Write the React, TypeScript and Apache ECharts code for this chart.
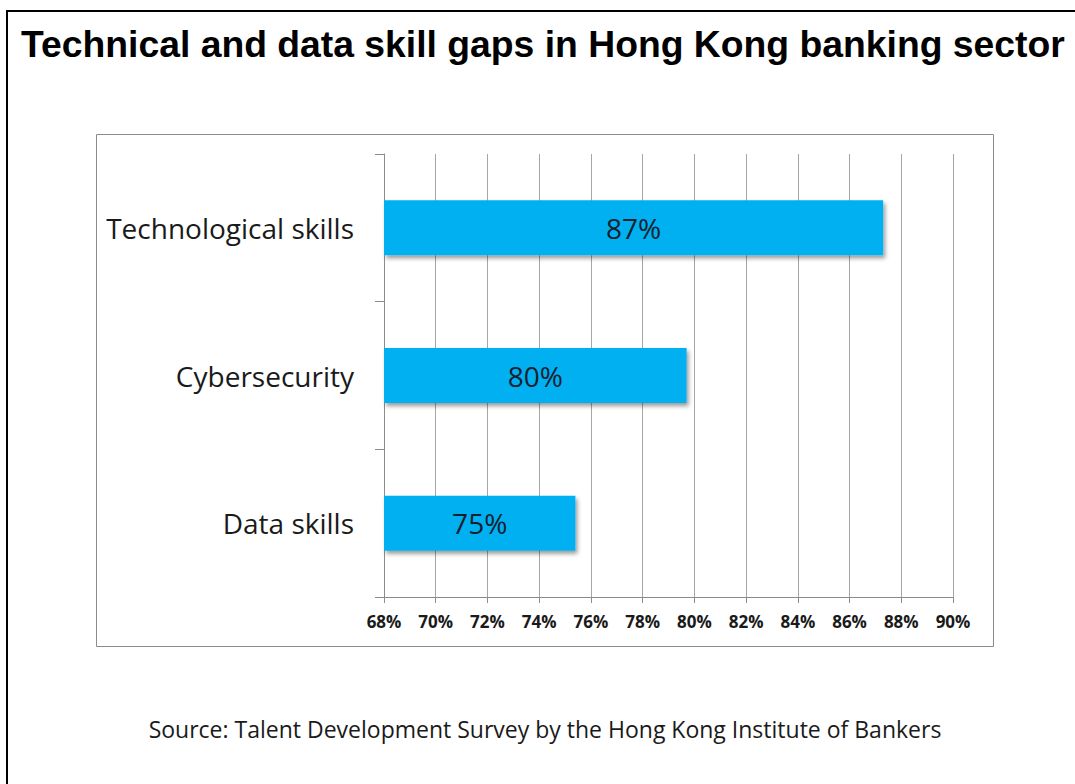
import React, { useEffect, useRef } from "react";
import * as echarts from "echarts";

const titleText = "Technical and data skill gaps in Hong Kong banking sector";
const sourceText = "Source: Talent Development Survey by the Hong Kong Institute of Bankers";
const categories = ["Technological skills", "Cybersecurity", "Data skills"];
const values = [87.3, 79.7, 75.4];
const axisMin = 68;
const axisMax = 90;
const axisStep = 2;

export default function App() {
  const ref = useRef<HTMLDivElement>(null);
  useEffect(() => {
    if (!ref.current) return;
    const chart = echarts.init(ref.current, null, { renderer: "svg" });
    chart.setOption({
      animation: false,
      backgroundColor: "#ffffff",
      grid: { left: 384, right: 122, top: 154, bottom: 187, containLabel: false },
      xAxis: {
        type: "value",
        min: axisMin,
        max: axisMax,
        interval: axisStep,
        axisLine: { show: true, lineStyle: { color: "#8c8c8c", width: 1 } },
        axisTick: { show: true, length: 6, lineStyle: { color: "#8c8c8c" } },
        splitLine: { show: true, lineStyle: { color: "#a6a6a6", width: 1 } },
        axisLabel: {
          formatter: "{value}%",
          fontFamily: "Open Sans",
          fontWeight: "bold",
          fontSize: 17,
          color: "#1a1a1a",
          margin: 16,
        },
      },
      yAxis: {
        type: "category",
        data: categories,
        inverse: true,
        axisLine: { show: true, lineStyle: { color: "#8c8c8c", width: 1 } },
        axisTick: { show: true, length: 9, lineStyle: { color: "#8c8c8c" } },
        axisLabel: {
          fontFamily: "Open Sans",
          fontSize: 28,
          color: "#1a1a1a",
          margin: 30,
        },
        splitLine: { show: false },
      },
      series: [
        {
          type: "bar",
          data: values,
          barWidth: 55,
          itemStyle: {
            color: "#00b0f0",
            shadowColor: "rgba(0,0,0,0.4)",
            shadowBlur: 4,
            shadowOffsetX: 2,
            shadowOffsetY: 3,
          },
          label: {
            show: true,
            position: "inside",
            formatter: (p: any) => Math.round(p.value) + "%",
            fontFamily: "Open Sans",
            fontSize: 28,
            color: "#17202e",
          },
        },
      ],
      graphic: [
        {
          type: "rect",
          shape: { x: 7, y: 11, width: 1200, height: 1000 },
          style: { fill: "none", stroke: "#000000", lineWidth: 2 },
          silent: true,
        },
        {
          type: "rect",
          shape: { x: 96.5, y: 134.5, width: 897, height: 512 },
          style: { fill: "none", stroke: "#8c8c8c", lineWidth: 1 },
          silent: true,
          z: -1,
        },
        {
          type: "text",
          x: 21,
          y: 44,
          style: {
            text: titleText,
            font: "bold 37.3px 'Liberation Sans', Arial, sans-serif",
            fill: "#000000",
            verticalAlign: "middle",
            align: "left",
          },
        },
        {
          type: "text",
          x: 545,
          y: 729,
          style: {
            text: sourceText,
            font: "23px 'Open Sans', sans-serif",
            fill: "#1a1a1a",
            verticalAlign: "middle",
            align: "center",
          },
        },
      ],
    });
    return () => chart.dispose();
  }, []);
  return (
    <div
      ref={ref}
      style={{ position: "absolute", left: 0, top: 0, width: 1075, height: 784 }}
    />
  );
}
